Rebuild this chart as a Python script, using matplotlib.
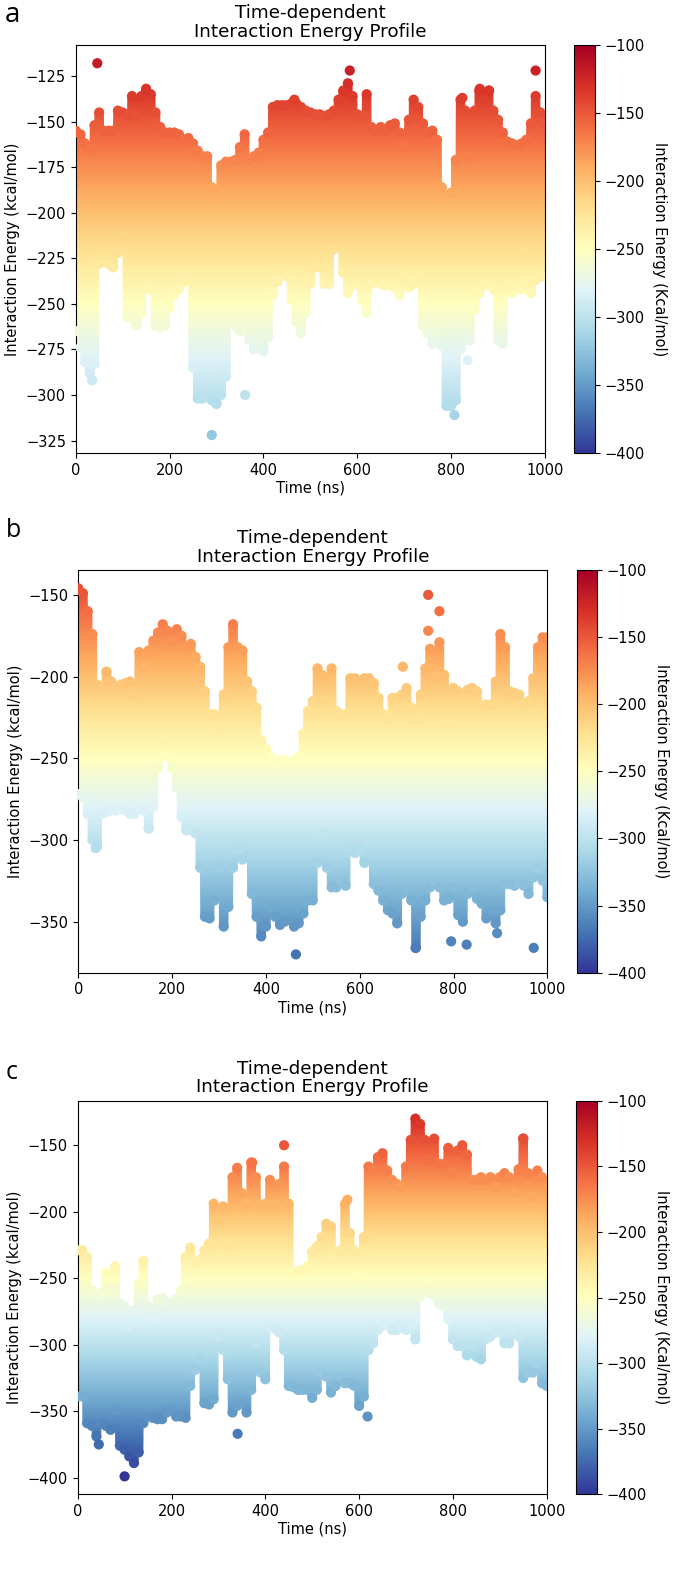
import numpy as np
import matplotlib
matplotlib.use('Agg')
import matplotlib.pyplot as plt
from matplotlib.colors import Normalize

# ---------------- data ----------------
time_grid = list(range(0, 1001, 10))

upper_a = [-155, -157, -162, -165, -152, -145, -155, -155, -155, -144,
           -145, -146, -136, -147, -136, -132, -135, -145, -153, -156,
           -156, -156, -157, -160, -159, -162, -166, -169, -169, -186,
           -192, -174, -172, -172, -171, -164, -157, -171, -169, -167,
           -160, -156, -142, -141, -141, -141, -140, -140, -142, -144,
           -145, -146, -146, -147, -146, -144, -138, -133, -129, -136,
           -146, -147, -135, -153, -155, -153, -155, -152, -151, -156,
           -164, -149, -138, -142, -151, -156, -155, -160, -186, -191,
           -189, -171, -138, -144, -169, -144, -133, -138, -133, -144,
           -149, -156, -161, -162, -163, -162, -160, -151, -136, -145,
           -151]
lower_a = [-265, -274, -282, -288, -283, -228, -226, -228, -230, -222,
           -213, -257, -258, -262, -255, -240, -242, -262, -263, -262,
           -252, -245, -242, -238, -236, -285, -302, -302, -300, -303,
           -305, -300, -290, -260, -262, -265, -262, -270, -275, -272,
           -276, -268, -245, -238, -232, -235, -248, -260, -266, -255,
           -239, -230, -230, -239, -239, -220, -215, -233, -244, -240,
           -233, -248, -255, -239, -233, -239, -240, -233, -241, -245,
           -235, -241, -239, -235, -262, -266, -272, -266, -273, -306,
           -306, -303, -275, -270, -270, -253, -244, -240, -239, -242,
           -270, -272, -240, -244, -240, -242, -239, -244, -237, -235,
           -235]
extra_t_a = [46, 35, 290, 361, 584, 980, 807, 835, 466, 824, 861, 881]
extra_e_a = [-118, -292, -322, -300, -122, -122, -311, -281, -138, -137, -132, -133]

upper_b = [-146, -149, -160, -174, -205, -208, -197, -203, -207, -205,
           -204, -203, -211, -185, -194, -184, -178, -173, -168, -172,
           -178, -171, -175, -182, -180, -188, -194, -209, -223, -223,
           -231, -211, -182, -168, -182, -184, -203, -209, -219, -239,
           -244, -249, -253, -251, -251, -255, -251, -249, -235, -221,
           -215, -195, -199, -214, -195, -221, -223, -223, -201, -201,
           -203, -201, -201, -204, -213, -223, -225, -213, -213, -211,
           -207, -219, -227, -211, -195, -183, -200, -179, -199, -229,
           -207, -209, -213, -208, -207, -209, -219, -217, -217, -203,
           -174, -182, -209, -210, -211, -217, -215, -201, -182, -176,
           -176]
lower_b = [-272, -274, -284, -300, -304, -284, -283, -282, -282, -281,
           -282, -284, -284, -280, -282, -293, -280, -256, -239, -249,
           -256, -268, -286, -294, -294, -296, -317, -347, -348, -337,
           -317, -353, -341, -317, -306, -312, -310, -333, -347, -359,
           -353, -341, -347, -352, -350, -349, -353, -351, -345, -337,
           -337, -314, -296, -317, -329, -329, -325, -328, -304, -308,
           -306, -314, -300, -327, -331, -337, -343, -345, -351, -333,
           -329, -337, -366, -347, -337, -329, -325, -329, -337, -336,
           -329, -346, -350, -333, -329, -336, -339, -348, -343, -351,
           -343, -327, -327, -328, -326, -328, -333, -323, -317, -325,
           -335]
extra_t_b = [746, 746, 770, 692, 464, 719, 795, 828, 893, 971, 37, 150]
extra_e_b = [-150, -172, -160, -194, -370, -366, -362, -364, -357, -366, -305, -293]

upper_c = [-229, -229, -234, -259, -264, -261, -246, -259, -241, -269,
           -271, -286, -274, -254, -237, -271, -279, -266, -265, -268,
           -271, -266, -259, -234, -227, -238, -236, -229, -224, -194,
           -206, -196, -224, -174, -167, -186, -194, -163, -174, -195,
           -194, -176, -194, -179, -166, -194, -246, -244, -244, -241,
           -230, -226, -219, -209, -211, -236, -229, -194, -216, -229,
           -249, -219, -166, -169, -159, -156, -169, -176, -179, -181,
           -166, -146, -130, -134, -146, -161, -145, -164, -164, -152,
           -171, -154, -150, -157, -176, -176, -174, -176, -174, -181,
           -174, -171, -174, -186, -168, -145, -171, -189, -169, -174,
           -181]
lower_c = [-339, -339, -359, -361, -369, -359, -361, -364, -349, -376,
           -379, -384, -389, -381, -359, -354, -355, -356, -356, -351,
           -349, -354, -354, -355, -331, -319, -311, -344, -345, -341,
           -294, -304, -326, -351, -346, -344, -351, -334, -299, -321,
           -326, -286, -288, -291, -304, -331, -332, -334, -334, -334,
           -340, -334, -321, -324, -336, -331, -324, -329, -329, -331,
           -346, -339, -304, -299, -289, -286, -284, -289, -289, -286,
           -289, -286, -296, -264, -244, -261, -264, -269, -271, -281,
           -296, -301, -301, -308, -301, -309, -311, -296, -294, -291,
           -291, -299, -299, -289, -294, -325, -321, -321, -314, -329,
           -331]
extra_t_c = [440, 100, 341, 45, 618, 575, 372, 950]
extra_e_c = [-150, -399, -367, -375, -354, -191, -163, -145]

panel_letters = ['a', 'b', 'c']
title_text = 'Time-dependent\nInteraction Energy Profile'
x_label = 'Time (ns)'
y_label = 'Interaction Energy (kcal/mol)'
cbar_label = 'Interaction Energy (Kcal/mol)'

# ---------------- figure ----------------
W, H = 674, 1572
fig = plt.figure(figsize=(W / 100, H / 100), dpi=100)
cmap = plt.get_cmap('RdYlBu_r')
norm = Normalize(vmin=-400, vmax=-100)
MARKER_S = 54
HALF_W = 10.0  # half width (ns) of a column of stacked markers


def fr(l, t, r, b):
    return [l / W, 1 - b / H, (r - l) / W, (b - t) / H]


def column_outline(t, lo, hi):
    """Outline of the union of marker columns [t-HALF_W, t+HALF_W] x [lo, hi]."""
    t = np.asarray(t, float)
    lo = np.asarray(lo, float)
    hi = np.asarray(hi, float)
    xf = np.arange(t.min() - HALF_W, t.max() + HALF_W + 0.25, 0.5)
    cover = np.abs(xf[:, None] - t[None, :]) <= HALF_W + 1e-9
    top = np.where(cover, hi[None, :], -np.inf).max(axis=1)
    bot = np.where(cover, lo[None, :], np.inf).min(axis=1)
    return xf, bot, top


panels = [
    dict(upper=upper_a, lower=lower_a, et=extra_t_a, ee=extra_e_a,
         ax=fr(75.7, 45, 545, 453.3), cax=fr(574, 45, 595, 453.3),
         ylim=(-332, -108), letter=(5, 22, 20)),
    dict(upper=upper_b, lower=lower_b, et=extra_t_b, ee=extra_e_b,
         ax=fr(78.3, 570, 547.3, 972.7), cax=fr(576.7, 570, 596.7, 972.7),
         ylim=(-381.2, -134.8), letter=(6, 537, 18)),
    dict(upper=upper_c, lower=lower_c, et=extra_t_c, ee=extra_e_c,
         ax=fr(77.7, 1100.7, 546.7, 1494.3), cax=fr(576, 1100.7, 596.7, 1494.3),
         ylim=(-412.5, -116.5), letter=(6, 1079, 18)),
]

tick_fs = 10.5
for i, p in enumerate(panels):
    ax = fig.add_axes(p['ax'])
    y0, y1 = p['ylim']
    xf, bot, top = column_outline(time_grid, p['lower'], p['upper'])
    poly = ax.fill_between(xf, bot, top, facecolor='none', edgecolor='none')
    grad = np.linspace(y0, y1, 800).reshape(-1, 1)
    im = ax.imshow(grad, extent=[-20, 1020, y0, y1], origin='lower',
                   aspect='auto', cmap=cmap, norm=norm, interpolation='bilinear')
    im.set_clip_path(poly.get_paths()[0], transform=ax.transData)
    for vals in (p['upper'], p['lower']):
        ax.scatter(time_grid, vals, c=vals, cmap=cmap, norm=norm, s=MARKER_S,
                   edgecolors='none', zorder=3)
    sc = ax.scatter(p['et'], p['ee'], c=p['ee'], cmap=cmap, norm=norm,
                    s=MARKER_S, edgecolors='none', zorder=4)
    ax.set_xlim(0, 1000)
    ax.set_ylim(y0, y1)
    ax.set_xticks([0, 200, 400, 600, 800, 1000])
    ax.tick_params(labelsize=tick_fs)
    ax.set_xlabel(x_label, fontsize=tick_fs, labelpad=2)
    ax.set_ylabel(y_label, fontsize=tick_fs)
    ax.set_title(title_text, fontsize=13.2, linespacing=1.05)

    cax = fig.add_axes(p['cax'])
    cb = fig.colorbar(sc, cax=cax)
    cb.set_ticks([-400, -350, -300, -250, -200, -150, -100])
    cb.ax.tick_params(labelsize=tick_fs)
    cb.set_label(cbar_label, rotation=270, fontsize=tick_fs, labelpad=16)

    lx, ly, lfs = p['letter']
    fig.text(lx / W, 1 - ly / H, panel_letters[i], fontsize=lfs,
             family=['Open Sans', 'DejaVu Sans'], va='baseline', ha='left')

fig.savefig('out.png', dpi=100)
